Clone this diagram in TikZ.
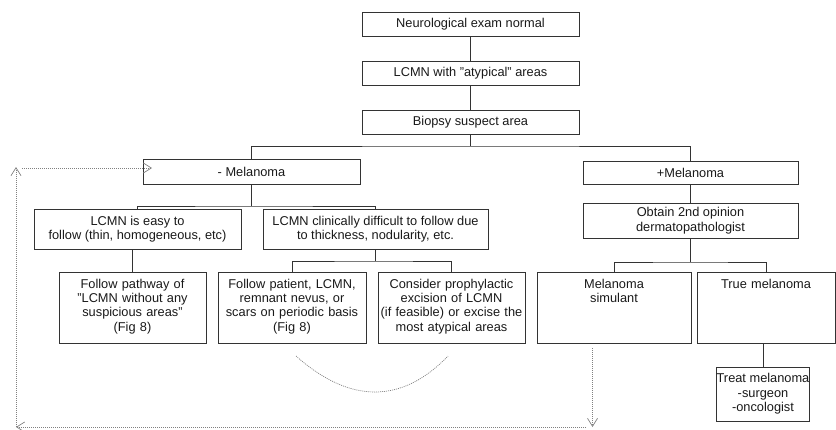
\documentclass[tikz,border=0pt]{standalone}
\usepackage{fontspec}
\setmainfont{Liberation Sans}
\usetikzlibrary{arrows.meta}
\tikzstyle{box}=[draw=black!80, line width=0.8pt, text=black!90, align=center, inner sep=0pt, font=\fontsize{12.8}{14.4}\selectfont]
\tikzstyle{wbox}=[box, minimum height=24pt]
\tikzstyle{tbox}=[box, text height=16pt, text depth=55pt]
\tikzstyle{link}=[draw=black!80, line width=0.8pt]
\tikzstyle{backline}=[draw=black!50, line width=0.7pt, dash pattern=on 1pt off 1pt]
\tikzstyle{backarrow}=[backline, -{Straight Barb[length=8pt, width=10pt]}]

\begin{document}
\begin{tikzpicture}[x=1pt, y=-1pt]
    \useasboundingbox (0, 0) rectangle (836, 429);
    \clip (0, 0) rectangle (836, 429);
    % top chain
    \node[wbox, minimum width=217pt] (neuro) at (470.5, 24) {Neurological exam normal};
    \node[wbox, minimum width=217pt] (atyp) at (470.5, 73.5) {LCMN with "atypical" areas};
    \node[wbox, minimum width=217pt] (biopsy) at (470.5, 122.5) {Biopsy suspect area};
    \node[wbox, minimum width=217pt, minimum height=25pt] (mneg) at (251.5, 171.5) {- Melanoma};
    \node[wbox, minimum width=215pt, minimum height=23pt] (mpos) at (690.5, 172.5) {+Melanoma};
    % second level
    \node[box, minimum width=207pt, minimum height=40pt] (easy) at (137.5, 229) {LCMN is easy to\\follow (thin, homogeneous, etc)};
    \node[box, minimum width=225pt, minimum height=40pt] (diff) at (375.5, 229) {LCMN clinically difficult to follow due\\to thickness, nodularity, etc.};
    \node[box, minimum width=215pt, minimum height=35pt] (opin) at (690.5, 220.5) {Obtain 2nd opinion\\dermatopathologist};
    % third level
    \node[tbox, text width=147pt] (fpath) at (132.5, 307.5) {Follow pathway of\\"LCMN without any\\suspicious areas"\\(Fig 8)};
    \node[tbox, text width=148pt] (fpat) at (292, 307.5) {Follow patient, LCMN,\\remnant nevus, or\\scars on periodic basis\\(Fig 8)};
    \node[tbox, text width=147pt] (cons) at (451.5, 307.5) {Consider prophylactic\\excision of LCMN\\(if feasible) or excise the\\most atypical areas};
    \node[tbox, text width=154pt] (sim) at (614, 307.5) {Melanoma\\simulant};
    \node[tbox, text width=138pt] (truem) at (766, 307.5) {True melanoma};
    \node[box, minimum width=88pt, minimum height=54pt] (treat) at (763, 394) {Treat melanoma\\-surgeon\\-oncologist};

    \coordinate (s1) at (470.5, 146);
    \coordinate (s2) at (251.5, 206);
    \coordinate (s3) at (375.5, 261);
    \coordinate (s4) at (690.5, 262);
    \draw[link] (neuro) -- (atyp);
    \draw[link] (atyp) -- (biopsy);
    \draw[link] (biopsy) -- (s1);
    \draw[link] (mneg.north) |- (s1) -| (mpos.north);
    \draw[link] (mneg) -- (s2);
    \draw[link] (easy.north) |- (s2) -| (diff.north);
    \draw[link] (fpath.north) -- (fpath.north |- easy.south);
    \draw[link] (diff) -- (s3);
    \draw[link] (fpat.north) |- (s3) -| (cons.north);
    \draw[link] (mpos) -- (opin);
    \draw[link] (opin) -- (s4);
    \draw[link] (sim.north) |- (s4) -| (truem.north);
    \draw[link] (treat.north) -- (treat.north |- truem.south);

    % dotted loop back
    \coordinate (r1) at (592.5, 348);
    \coordinate (r2) at (592.5, 427);
    \coordinate (b1) at (586, 427);
    \coordinate (b2) at (16, 427);
    \coordinate (l2) at (16, 167);
    \coordinate (t1) at (22, 168);
    \coordinate (t2) at (152, 168);
    \draw[backarrow] (r1) -- (r2);
    \draw[backarrow] (b1) -- (b2);
    \draw[backarrow] (b2) -- (l2);
    \draw[backarrow] (t1) -- (t2);
    \coordinate (arcL) at (296, 356);
    \coordinate (arcR) at (448, 356);
    \draw[backline] (arcL) .. controls (350, 404) and (402, 404) .. (arcR);
\end{tikzpicture}
\end{document}
